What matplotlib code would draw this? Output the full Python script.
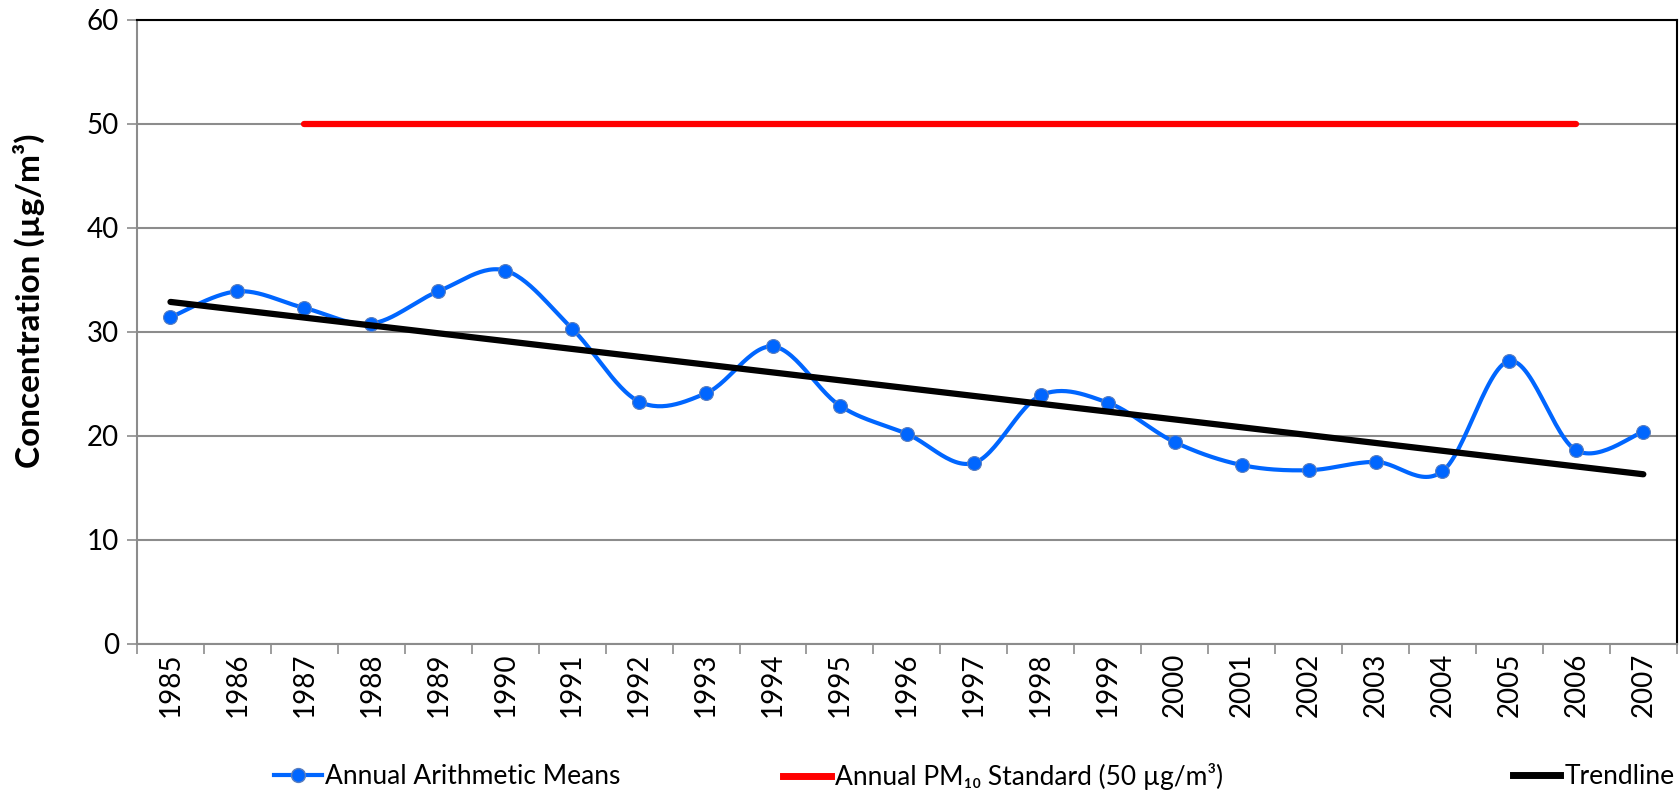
import numpy as np
import matplotlib.pyplot as plt
from matplotlib.lines import Line2D

plt.rcParams['font.family'] = ['Lato', 'DejaVu Sans']

years = [str(y) for y in range(1985, 2008)]
means = [31.4, 33.9, 32.3, 30.8, 33.9, 35.9, 30.3, 23.3, 24.1, 28.6, 22.9, 20.2,
         17.4, 23.9, 23.2, 19.4, 17.2, 16.7, 17.5, 16.6, 27.2, 18.6, 20.4]
standard_years = years[2:22]
standard_value = 50

x = np.arange(len(years))
y = np.array(means)

# Excel-style smoothed line: cubic bezier with control points at p + (next - prev)/6
def smooth(xs, ys, n=30):
    px, py = [], []
    m = len(xs)
    for i in range(m - 1):
        x0, y0 = xs[max(i - 1, 0)], ys[max(i - 1, 0)]
        x1, y1 = xs[i], ys[i]
        x2, y2 = xs[i + 1], ys[i + 1]
        x3, y3 = xs[min(i + 2, m - 1)], ys[min(i + 2, m - 1)]
        c1x, c1y = x1 + (x2 - x0) / 6, y1 + (y2 - y0) / 6
        c2x, c2y = x2 - (x3 - x1) / 6, y2 - (y3 - y1) / 6
        t = np.linspace(0, 1, n)
        bx = (1-t)**3*x1 + 3*(1-t)**2*t*c1x + 3*(1-t)*t**2*c2x + t**3*x2
        by = (1-t)**3*y1 + 3*(1-t)**2*t*c1y + 3*(1-t)*t**2*c2y + t**3*y2
        px.extend(bx)
        py.extend(by)
    return np.array(px), np.array(py)

sx, sy = smooth(x, y)
slope, intercept = np.polyfit(x, y, 1)

fig = plt.figure(figsize=(16.81, 7.94), dpi=100)
ax = fig.add_axes([0.0815, 0.189, 0.916, 0.786])

blue = '#0066FF'
ax.grid(axis='y', color='#8c8c8c', linewidth=1.5)
ax.set_axisbelow(True)

sx_std = [years.index(standard_years[0]), years.index(standard_years[-1])]
ax.plot(sx_std, [standard_value] * 2, color='#FF0000', lw=4.5, solid_capstyle='round', zorder=3)
ax.plot(sx, sy, color=blue, lw=3, zorder=4)
ax.plot(x, y, 'o', color=blue, markersize=10, markeredgecolor='#5b7fbf', markeredgewidth=0.8, zorder=5)
ax.plot(x[[0, -1]], slope * x[[0, -1]] + intercept, color='black', lw=4.5,
        solid_capstyle='round', zorder=6)

ax.set_xlim(-0.5, len(years) - 0.5)
ax.set_ylim(0, 60)
ax.set_yticks(range(0, 61, 10))
ax.set_xticks(x)
ax.set_xticklabels(years, rotation=90, fontsize=20)
ax.set_xticks(np.arange(-0.5, len(years)), minor=True)
ax.tick_params(axis='x', which='major', length=0, pad=6)
ax.tick_params(axis='x', which='minor', length=7, color='#8c8c8c', width=1.2)
ax.tick_params(axis='y', labelsize=20, length=7, color='#8c8c8c', width=1.2, pad=6)

for side in ['left', 'bottom']:
    ax.spines[side].set_color('#8c8c8c')
    ax.spines[side].set_linewidth(1.5)
for side in ['top', 'right']:
    ax.spines[side].set_color('black')
    ax.spines[side].set_linewidth(1.5)

ax.set_ylabel('Concentration (µg/m³)', fontsize=24, fontweight='bold')
ax.yaxis.set_label_coords(-0.06, 0.55)

handles = [
    Line2D([], [], color=blue, lw=3, marker='o', markersize=10, markeredgecolor='#5b7fbf'),
    Line2D([], [], color='#FF0000', lw=5),
    Line2D([], [], color='black', lw=5),
]
labels = ['Annual Arithmetic Means', 'Annual PM₁₀ Standard (50 µg/m³)', 'Trendline']
for h, lab, xpos in zip(handles, labels, [0.163, 0.466, 0.9]):
    fig.legend([h], [lab], loc='center left', bbox_to_anchor=(xpos, 0.022),
               frameon=False, fontsize=19, handlelength=1.8, handletextpad=0.15,
               borderpad=0, borderaxespad=0)

fig.savefig('out.png', dpi=100)
